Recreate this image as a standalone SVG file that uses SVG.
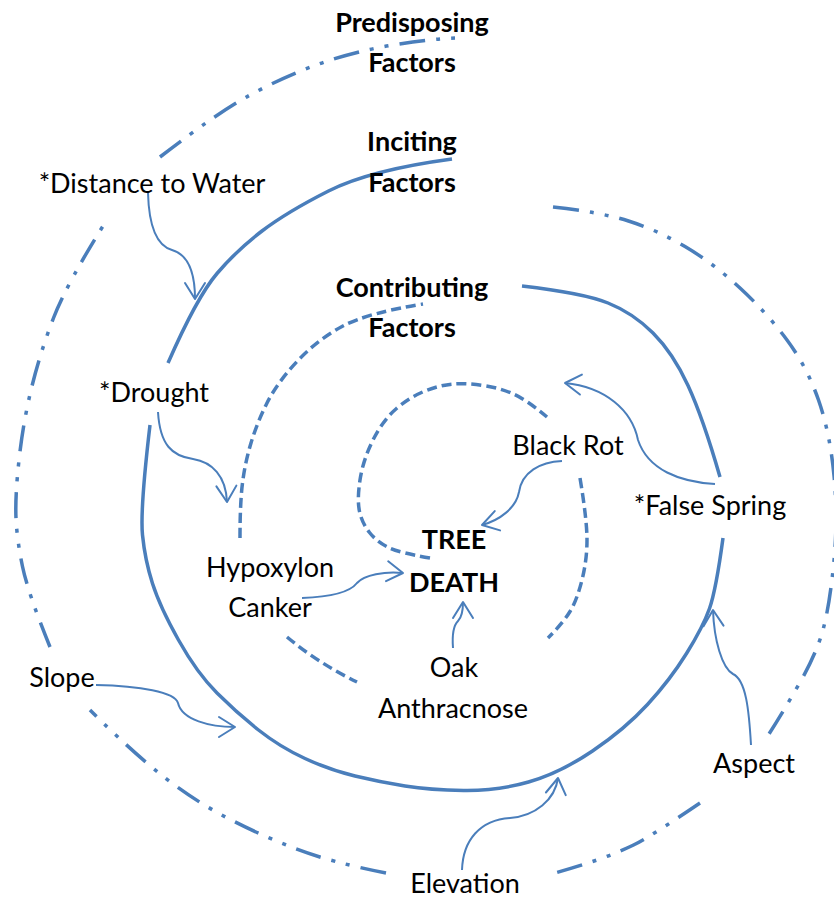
<svg xmlns="http://www.w3.org/2000/svg" width="834" height="899" viewBox="0 0 834 899">
<defs>
<marker id="ah" markerWidth="20" markerHeight="24" refX="18" refY="12" orient="auto" markerUnits="userSpaceOnUse" viewBox="0 0 20 24">
<path d="M2,2 L18,12 L2,22" fill="none" stroke="#4a7ebb" stroke-width="2" stroke-linecap="round" stroke-linejoin="round"/>
</marker>
<style>
.lbl{font-family:Lato,"Open Sans","Liberation Sans",sans-serif;font-size:27px;fill:#000;text-anchor:middle}
.b{font-weight:bold}
.ring{fill:none;stroke:#4a7ebb;stroke-width:3.5}
.dd{stroke-dasharray:26 11 4 11 4 11}
.da{stroke-dasharray:10 5}
.con{fill:none;stroke:#4a7ebb;stroke-width:2;marker-end:url(#ah)}
</style>
</defs>
<rect width="834" height="899" fill="#fff"/>
<g id="spiral">
<path class="ring dd" d="M553,207 Q600,212 628.5,221 Q657,230 685,246.5 Q713,263 740,288 Q767,313 787,340 Q807,367 818.5,400 Q830,433 834,475.5 Q838,518 834,560.5 Q830,603 823.5,628 Q817,653 798.5,685 Q780,717 767,737"/>
<path class="ring dd" d="M700,803 Q650,837 633.5,845 Q617,853 597,860 Q577,867 548,875"/>
<path class="ring dd" d="M386,873 Q330,862 295,848.5 Q260,835 226.5,817.5 Q193,800 161.5,775 Q130,750 90,710"/>
<path class="ring dd" d="M50,647 Q28,593 22.5,566.5 Q17,540 16,518.5 Q15,497 19,460 Q23,423 31.5,388 Q40,353 53.5,318 Q67,283 108,218"/>
<path class="ring dd" d="M160,157 Q217,113 250,95 Q283,77 317.5,64.5 Q352,52 390,45.5 Q428,39 455,38"/>
<path class="ring" d="M522,286 Q583,293 608,303 Q633,313 653,333 Q673,353 688,385.5 Q703,418 720,477"/>
<path class="ring" d="M723,538 Q716,590 709.5,608.5 Q703,627 686.5,653.5 Q670,680 647.5,704.5 Q625,729 592.5,751 Q560,773 528.5,782 Q497,791 463.5,790.5 Q430,790 405,786 Q380,782 355,776 Q330,770 305,758.5 Q280,747 258.5,730 Q237,713 217,693 Q197,673 178.5,640 Q160,607 152.5,583.5 Q145,560 142.5,535 Q140,510 150,425"/>
<path class="ring" d="M168,363 Q197,297 217,273.5 Q237,250 262,231 Q287,212 328.5,191 Q370,170 452,159"/>
<path class="ring da" d="M240,538 Q240,503 242.5,483 Q245,463 251,443 Q257,423 267,403 Q277,383 297,361.5 Q317,340 342,326.5 Q367,313 423,304"/>
<path class="ring da" d="M287,637 Q318,663 357,682"/>
<path class="ring da" d="M580,478 Q587,520 587,540 Q587,560 582,580 Q577,600 570,611.5 Q563,623 548,638"/>
<path class="ring da" d="M430,558 Q400,553 388.5,547.5 Q377,542 369.5,532.5 Q362,523 359.5,511.5 Q357,500 360,480 Q363,460 373,440 Q383,420 396.5,408.5 Q410,397 425,391 Q440,385 453.5,384 Q467,383 483.5,385.5 Q500,388 513.5,394 Q527,400 547,417"/>
</g>
<g id="connectors">
<path class="con" d="M148,193 C149,230 158,246 172,250 C186,254 195,268 195,299"/>
<path class="con" d="M158,412 C160,445 172,456 193,459 C212,462 226,476 227,502"/>
<path class="con" d="M562,461 C540,462 522,472 519,492 C516,508 500,520 482,525"/>
<path class="con" d="M302,598 C330,597 350,592 357,583 C364,575 385,571 403,573"/>
<path class="con" d="M453,648 C452,635 453,626 458,621 C462,617 463,610 463,602"/>
<path class="con" d="M715,484 C680,482 648,470 638,440 C632,410 605,387 565,383"/>
<path class="con" d="M96,685 C140,686 175,692 178,703 C182,720 210,727 235,727"/>
<path class="con" d="M462,870 C463,840 480,820 510,818 C535,816 555,800 558,778"/>
<path class="con" d="M751,745 C749,710 746,680 733,674 C722,668 714,640 713,610"/>
</g>
<g id="predisposing"><text class="lbl b" x="412" y="32">Predisposing</text><text class="lbl b" x="412" y="72">Factors</text></g>
<g id="inciting"><text class="lbl b" x="412" y="151">Inciting</text><text class="lbl b" x="412" y="192">Factors</text></g>
<g id="contributing"><text class="lbl b" x="412" y="297">Contributing</text><text class="lbl b" x="412" y="337">Factors</text></g>
<g id="distance"><text class="lbl" x="152" y="193">*Distance to Water</text></g>
<g id="drought"><text class="lbl" x="154" y="402">*Drought</text></g>
<g id="blackrot"><text class="lbl" x="568" y="455">Black Rot</text></g>
<g id="falsespring"><text class="lbl" x="710" y="515">*False Spring</text></g>
<g id="treedeath"><text class="lbl b" x="454" y="549">TREE</text><text class="lbl b" x="454" y="592">DEATH</text></g>
<g id="hypoxylon"><text class="lbl" x="270" y="577">Hypoxylon</text><text class="lbl" x="270" y="617">Canker</text></g>
<g id="oak"><text class="lbl" x="454" y="677">Oak</text><text class="lbl" x="453" y="718">Anthracnose</text></g>
<g id="slope"><text class="lbl" x="62" y="687">Slope</text></g>
<g id="aspect"><text class="lbl" x="754" y="773">Aspect</text></g>
<g id="elevation"><text class="lbl" x="465" y="893">Elevation</text></g>
</svg>
